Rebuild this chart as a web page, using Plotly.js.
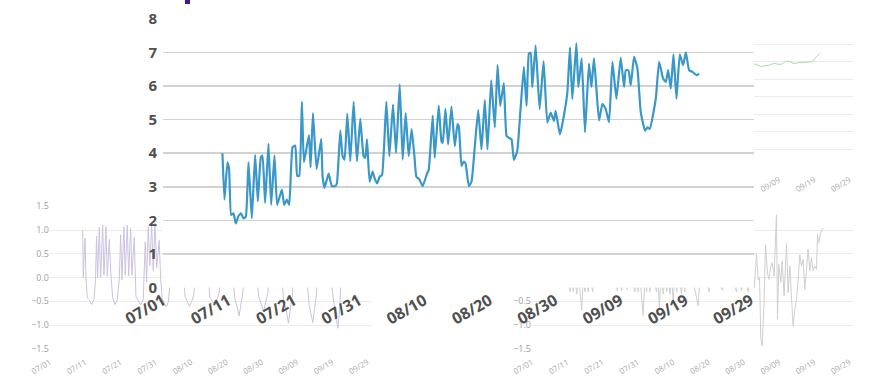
<!DOCTYPE html>
<html><head><meta charset="utf-8">
<script src="https://cdn.plot.ly/plotly-3.0.1.min.js"></script>
<style>html,body{margin:0;padding:0;background:#fff}#chart{width:877px;height:382px}</style>
</head><body><div id="chart"></div>
<script>
// ---- data (day offsets from 07/01) ----
const mainDays = [9.10,9.41,9.87,10.12,10.43,10.79,11.15,11.55,11.96,12.32,12.68,13.09,13.60,14.11,14.52,14.98,15.23,15.64,16.15,16.56,17.07,17.48,18.2,18.56,18.97,19.33,19.84,20.25,20.55,20.86,21.27,21.58,22.35,22.6,22.96,23.52,24.23,24.43,24.74,25.36,25.87,26.38,
26.63,27.15,27.5,27.8,28.22,28.68,29.19,29.7,30.21,30.72,30.98,31.24,31.64,32.1,32.41,32.78,33.18,33.54,34.2,34.66,35.22,35.69,36.25,36.7,37.16,37.62,38.08,38.5,38.8,39.26,39.77,40.44,40.69,41.3,41.61,42.22,42.64,42.84,43.25,43.66,44.17,44.68,45.09,45.3,45.71,
46.06,46.32,46.83,47.24,47.75,48.27,48.77,49.28,49.69,50.26,50.81,51.23,51.64,52.19,52.61,52.96,53.37,53.73,54.24,54.75,55.26,55.67,56.03,56.29,56.55,57.06,57.67,58.28,58.85,59.36,59.87,60.12,60.78,61.24,61.92,62.32,62.68,63.3,
63.6,64.11,64.62,65.23,65.6,66.0,66.77,67.29,67.79,68.3,68.82,69.43,70.09,70.6,70.86,71.27,71.63,72.13,72.65,73.16,73.82,74.19,74.54,75.46,75.97,76.58,77.0,77.35,77.76,78.17,78.63,79.14,79.65,80.06,80.57,81.09,81.7,82.1];
const mainValues = [4.0,2.62,3.73,3.53,2.16,2.21,1.91,2.13,2.21,2.06,2.11,3.73,2.06,3.95,2.57,3.88,3.93,2.52,4.28,2.46,3.93,2.46,2.92,2.46,2.62,2.46,4.18,4.23,3.32,3.32,5.53,3.73,4.54,3.58,5.19,3.53,4.43,3.32,2.97,3.39,3.02,3.02,
3.1,4.67,3.91,3.81,5.17,3.76,5.53,3.76,5.02,3.91,3.86,4.41,3.15,3.45,3.25,3.1,3.3,3.35,5.53,3.91,5.45,4.01,6.05,3.81,5.19,3.91,4.72,3.91,3.3,3.22,3.02,3.4,3.5,5.12,3.86,5.42,4.36,4.31,5.32,4.26,5.39,4.21,4.87,4.8,3.62,
3.75,3.7,3.02,3.15,4.21,5.28,4.11,5.58,4.11,6.17,4.76,6.62,5.41,6.09,4.51,4.46,4.41,3.8,4.06,5.31,6.57,5.41,6.97,6.99,5.96,7.2,5.31,6.74,4.91,5.21,4.96,5.26,4.56,4.96,5.81,7.15,5.61,7.27,
5.97,6.82,4.62,6.67,5.97,6.82,4.97,5.47,5.32,4.92,6.72,5.62,6.84,5.97,6.47,6.47,6.02,6.87,6.52,5.22,4.67,4.77,4.72,5.62,6.72,6.22,6.12,6.47,5.92,6.94,5.62,6.94,6.62,7.0,6.47,6.42,6.32,6.37];

const purpleDays = [9.26,9.43,9.92,10.2,10.57,11.13,11.81,12.46,12.9,13.2,13.5,13.97,14.36,14.93,15.3,15.86,16.23,16.8,17.2,17.76,18.41,19.07,19.63,20.03,20.4,20.96,21.33,21.9,22.29,22.86,23.23,23.88,24.36,25.01,25.69,26.43,27.0,27.39,27.85,28.33,28.81,29.26,29.75,30.23,30.96,31.36,
31.8,32.4,33.0,33.6,34.0,34.4,34.8,35.4,35.8,36.4,36.8,37.4,37.8,38.3,38.9,39.5,40.2,40.8,41.1,41.4,41.8,42.4,42.8,43.4,43.8,44.4,44.8,45.3,46.0,46.7,47.4,48.0,48.4,48.8,49.4,49.8,50.4,50.8,51.4,51.9,52.4,53.0,53.6,54.2,54.7,55.1,55.5,56.1,56.5,57.1,57.5,58.1,58.6,59.2,59.9,60.5,61.2,61.8,62.2,62.6,63.2,63.6,64.2,64.6,65.2,65.7,66.3,67.0,67.6,68.2,68.8,69.2,69.6,70.2,70.6,71.2,71.6,72.2,72.8,73.4,74.0,74.5,75.1,75.6,76.0,76.4,77.0,77.4,78.0,78.4,79.0,79.6,80.5,81.1,81.6,82.1,82.4,82.8];
const purpleValues = [1.0,0.0,0.83,0.0,-0.43,-0.47,-0.57,-0.47,-0.05,0.87,0.0,1.05,0.0,1.1,0.05,1.07,0.03,0.8,0.15,-0.43,-0.57,-0.47,-0.05,0.9,-0.05,1.07,0.05,1.1,0.03,1.03,0.05,0.85,-0.4,-0.47,-0.57,-0.47,0.75,-0.1,1.07,0.25,1.12,0.15,1.15,0.2,0.78,0.0,
-0.45,-0.55,-0.62,-0.5,-0.1,0.9,0.0,1.0,0.1,1.05,0.1,1.0,0.0,-0.4,-0.5,-0.61,-0.5,-0.35,0.0,0.9,0.05,1.05,0.1,1.0,0.05,1.05,0.1,-0.4,-0.5,-0.57,-0.45,-0.3,0.85,0.0,1.0,0.1,1.05,0.05,1.0,0.0,-0.45,-0.6,-0.81,-0.55,-0.3,0.9,0.0,1.0,0.1,1.05,0.05,1.0,0.0,-0.4,-0.55,-0.72,-0.5,-0.3,0.9,0.0,1.0,0.05,1.05,0.1,1.0,0.0,-0.5,-0.7,-0.96,-0.6,-0.3,0.9,0.0,1.0,0.1,1.0,0.05,1.0,0.0,-0.55,-0.75,-0.95,-0.6,-0.3,0.9,0.0,1.0,0.05,1.05,0.1,1.0,0.0,-0.55,-0.8,-1.07,-0.7,-0.2,0.5];

const grayDays = [10.0,10.8,11.2,11.7,12.1,12.7,13.2,14.1,14.5,15.0,15.4,15.9,16.4,17.2,17.6,19.0,21.0,23.0,24.2,24.7,25.4,26.0,27.0,27.6,29.2,29.6,30.1,30.6,31.5,32.0,32.5,33.0,33.4,34.0,35.3,35.7,36.1,36.6,37.2,37.7,38.2,38.6,39.1,39.6,40.0,40.5,41.0,41.6,42.4,42.8,43.3,44.0,45.5,47.1,47.6,48.5,50.2,50.6,52.0,54.0,54.5,56.0,58.0,58.5,59.4,59.9,61.3,61.8,62.5,
62.98,63.65,64.12,64.5,64.87,65.25,65.8,66.2,66.77,67.14,67.7,68.08,68.65,69.3,69.6,69.97,70.54,70.9,71.47,72.15,72.6,73.09,73.56,74.02,74.5,74.98,75.44,75.92,76.4,76.86,77.34,77.82,78.27,78.75,79.24,79.69,80.17,80.65,80.94,81.3,81.79,82.35,82.63];
const grayValues = [0.0,-0.3,0.05,-0.3,0.0,-0.35,0.05,-0.69,0.0,-0.3,0.05,-0.3,0.0,-0.3,0.05,0.1,0.0,0.1,-0.28,0.05,-0.28,0.1,-0.25,0.05,-0.3,0.0,-0.3,0.05,-0.8,0.0,-0.3,0.05,-0.3,0.1,-0.3,0.0,-0.63,0.05,-0.35,0.0,-0.3,0.05,-0.35,0.0,-0.5,0.05,-0.3,0.0,-0.35,0.0,-0.3,0.1,0.0,-0.6,0.0,0.1,-0.3,0.05,0.1,-0.27,0.05,0.1,-0.3,0.0,-0.28,0.05,-0.3,0.0,0.1,
-0.22,0.5,-0.05,0.0,-1.3,-1.44,-0.46,0.69,0.08,-0.04,0.24,0.31,0.03,1.32,-0.88,0.28,-0.1,0.35,-0.39,0.73,-0.32,0.24,-0.36,-1.03,-0.68,-0.46,-0.05,0.48,0.24,0.38,-0.25,0.31,0.6,0.14,0.42,0.14,0.24,0.17,0.9,0.73,0.94,1.03,1.03];

const greenDays = [62.0,63.2,64.1,65.1,66.0,66.9,67.9,68.8,69.8,70.7,71.4,72.1,73.1,74.0,75.0,75.9,76.9,77.8,78.8,79.5,80.5,81.6];
const greenValues = [5.85,5.86,5.78,5.7,5.77,5.77,5.84,5.9,5.84,5.84,5.93,6.03,6.0,5.9,5.9,5.95,5.93,5.95,5.95,6.0,6.24,6.47];

// ---- helpers ----
const DAY = 86400000, T0 = Date.UTC(2020, 6, 1);
const toDate = d => new Date(T0 + Math.round(d * DAY)).toISOString().slice(0, 19).replace('T', ' ');
const W = 877, H = 382;
const dx = (a, b) => [a / W, b / W];
const dy = (top, bottom) => [1 - bottom / H, 1 - top / H];

const smallX = (dom, anchor) => ({
  domain: dom, anchor: anchor, type: 'date',
  range: ['2020-07-01', '2020-09-30'],
  tick0: '2020-07-01', dtick: 10 * DAY, tickformat: '%m/%d', tickangle: -30,
  tickfont: {family: 'Open Sans', size: 8, color: '#aaaaaa'},
  showgrid: false, zeroline: false, showline: false,
  ticks: 'outside', ticklen: 5, tickcolor: 'rgba(0,0,0,0)'
});
const smallY = (dom, anchor, range, dtick, fmt) => ({
  domain: dom, anchor: anchor, range: range, dtick: dtick, tickformat: fmt,
  tickfont: {family: 'Open Sans', size: 9, color: '#a0a0a0'},
  gridcolor: '#ececec', gridwidth: 1, zeroline: false, showline: false, ticks: ''
});

const traces = [
  {x: purpleDays.map(toDate), y: purpleValues, xaxis: 'x', yaxis: 'y', type: 'scatter', mode: 'lines',
   line: {color: '#cbc2e2', width: 1}, hoverinfo: 'skip'},
  {x: grayDays.map(toDate), y: grayValues, xaxis: 'x2', yaxis: 'y2', type: 'scatter', mode: 'lines',
   line: {color: '#cfcfcf', width: 1}, hoverinfo: 'skip'},
  {x: greenDays.map(toDate), y: greenValues, xaxis: 'x3', yaxis: 'y3', type: 'scatter', mode: 'lines',
   line: {color: '#a9d9a9', width: 1}, hoverinfo: 'skip'},
  {x: mainDays.map(toDate), y: mainValues, xaxis: 'x4', yaxis: 'y4', type: 'scatter', mode: 'lines',
   line: {color: '#3a98c8', width: 2.2, shape: 'spline', smoothing: 0.4}, hoverinfo: 'skip'}
];

const layout = {
  width: W, height: H, showlegend: false,
  margin: {l: 0, r: 0, t: 0, b: 0, pad: 0},
  paper_bgcolor: '#ffffff', plot_bgcolor: '#ffffff',
  xaxis: smallX(dx(50, 371), 'y'),
  yaxis: smallY(dy(206.25, 348.75), 'x', [-1.5, 1.5], 0.5, '.1f'),
  xaxis2: smallX(dx(532, 853), 'y2'),
  yaxis2: smallY(dy(206.25, 348.75), 'x2', [-1.5, 1.5], 0.5, '.1f'),
  xaxis3: smallX(dx(532, 853), 'y3'),
  yaxis3: smallY(dy(26.5, 166.5), 'x3', [0, 8], 1, 'd'),
  xaxis4: {
    domain: dx(163, 754), anchor: 'y4', type: 'date',
    range: ['2020-07-01', '2020-09-29 12:00'],
    tick0: '2020-07-01', dtick: 10 * DAY, tickformat: '%m/%d', tickangle: -30,
    tickfont: {family: 'Open Sans', size: 16, color: '#505050', weight: 'bold'},
    showgrid: false, zeroline: false, showline: false, ticks: ''
  },
  yaxis4: {
    domain: dy(18.8, 287.6), anchor: 'x4', range: [0, 8], dtick: 1,
    tickfont: {family: 'Open Sans', size: 15, color: '#505050', weight: 'bold'},
    gridcolor: '#d2d2d2', gridwidth: 1.5, zeroline: false, showline: false,
    ticks: 'outside', ticklen: 2, tickcolor: 'rgba(0,0,0,0)'
  },
  shapes: [
    {type: 'rect', xref: 'paper', yref: 'paper', x0: 185 / W, x1: 190 / W, y0: 1 - 4 / H, y1: 1,
     fillcolor: '#4b1290', line: {width: 0}}
  ]
};

Plotly.newPlot('chart', traces, layout, {staticPlot: true, displayModeBar: false});
</script>
</body></html>
